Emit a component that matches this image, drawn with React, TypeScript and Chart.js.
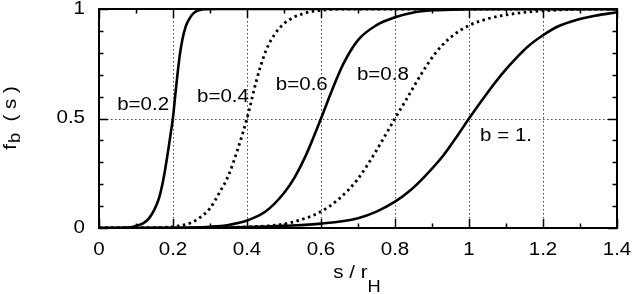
import React, { useEffect, useRef } from "react";
import { Chart, registerables } from "chart.js";
Chart.register(...registerables);

// ---- data ----
const b02S = [0, 0.08, 0.099, 0.12, 0.135, 0.15, 0.162, 0.172, 0.18, 0.188, 0.194, 0.2, 0.206, 0.212, 0.218, 0.225, 0.234, 0.243, 0.255, 0.27, 0.29, 0.32, 1.4];
const b02F = [0, 0.002, 0.009, 0.022, 0.044, 0.085, 0.135, 0.205, 0.28, 0.365, 0.435, 0.505, 0.605, 0.7, 0.785, 0.857, 0.918, 0.952, 0.98, 0.994, 0.999, 1, 1];

const b04S = [0, 0.15, 0.212, 0.25, 0.27, 0.3, 0.325, 0.35, 0.375, 0.4, 0.425, 0.45, 0.475, 0.5, 0.525, 0.55, 0.58, 0.62, 0.7, 1.4];
const b04F = [0, 0.001, 0.009, 0.025, 0.044, 0.09, 0.16, 0.24, 0.36, 0.5, 0.67, 0.805, 0.885, 0.933, 0.961, 0.978, 0.99, 0.997, 1, 1];

const b06S = [0, 0.2, 0.3, 0.35, 0.4, 0.45, 0.5, 0.53, 0.56, 0.6, 0.63, 0.66, 0.7, 0.75, 0.8, 0.85, 0.9, 1.0, 1.1, 1.4];
const b06F = [0, 0.001, 0.006, 0.014, 0.034, 0.075, 0.16, 0.235, 0.335, 0.5, 0.63, 0.748, 0.858, 0.926, 0.962, 0.984, 0.994, 0.999, 1, 1];

const b08S = [0, 0.3, 0.4, 0.45, 0.5, 0.55, 0.6, 0.65, 0.7, 0.75, 0.8, 0.83, 0.87, 0.91, 0.95, 1.0, 1.05, 1.1, 1.17, 1.25, 1.32, 1.4];
const b08F = [0, 0.001, 0.005, 0.009, 0.018, 0.04, 0.075, 0.135, 0.225, 0.355, 0.5, 0.585, 0.7, 0.8, 0.87, 0.925, 0.955, 0.973, 0.988, 0.996, 1, 1];

const b10S = [0, 0.3, 0.4, 0.5, 0.6, 0.7, 0.75, 0.8, 0.84, 0.88, 0.93, 0.97, 1.0, 1.05, 1.09, 1.13, 1.16, 1.2, 1.24, 1.29, 1.34, 1.4];
const b10F = [0, 0.001, 0.004, 0.01, 0.02, 0.045, 0.075, 0.12, 0.17, 0.235, 0.33, 0.425, 0.5, 0.618, 0.705, 0.78, 0.83, 0.88, 0.92, 0.95, 0.969, 0.985];

const curveLabels = ["b=0.2", "b=0.4", "b=0.6", "b=0.8", "b = 1."];
const labelX = [0.049, 0.265, 0.478, 0.697, 1.03];
const labelY = [0.562, 0.598, 0.653, 0.699, 0.42];

const xTicks = [0, 0.2, 0.4, 0.6, 0.8, 1, 1.2, 1.4];
const xTickLabels = ["0", "0.2", "0.4", "0.6", "0.8", "1", "1.2", "1.4"];
const xMinor = [0.1, 0.3, 0.5, 0.7, 0.9, 1.1, 1.3];
const yTicks = [0, 0.5, 1];
const yTickLabels = ["0", "0.5", "1"];
const yMinor = [0.1, 0.2, 0.3, 0.4, 0.6, 0.7, 0.8, 0.9];
const xGrid = [0.2, 0.4, 0.6, 0.8, 1, 1.2];
const yGrid = [0.5];

const FAMILY = '"Liberation Sans", Arial, sans-serif';
const FS = 18;
const SX = 1.14;

function pts(xs: number[], ys: number[]) {
  return xs.map((x, i) => ({ x, y: ys[i] }));
}

function txt(ctx: CanvasRenderingContext2D, s: string, x: number, y: number, align: CanvasTextAlign, size = FS) {
  ctx.save();
  ctx.font = `${size}px ${FAMILY}`;
  ctx.translate(x, y);
  ctx.scale(SX, 1);
  ctx.textAlign = align;
  ctx.fillText(s, 0, 0);
  ctx.restore();
}
function w(ctx: CanvasRenderingContext2D, s: string, size = FS) {
  ctx.save();
  ctx.font = `${size}px ${FAMILY}`;
  const m = ctx.measureText(s).width * SX;
  ctx.restore();
  return m;
}

const gridPlugin = {
  id: "gnuGrid",
  beforeDatasetsDraw(chart: any) {
    const { ctx, chartArea, scales } = chart;
    const { left, right, top, bottom } = chartArea;
    ctx.save();
    ctx.strokeStyle = "#444";
    ctx.lineWidth = 1;
    ctx.setLineDash([1.5, 2.5]);
    xGrid.forEach((v) => {
      const px = Math.round(scales.x.getPixelForValue(v)) + 0.5;
      ctx.beginPath();
      ctx.moveTo(px, top);
      ctx.lineTo(px, bottom);
      ctx.stroke();
    });
    yGrid.forEach((v) => {
      const py = Math.round(scales.y.getPixelForValue(v)) + 0.5;
      ctx.beginPath();
      ctx.moveTo(left, py);
      ctx.lineTo(right, py);
      ctx.stroke();
    });
    ctx.restore();
  },
  afterDatasetsDraw(chart: any) {
    const { ctx, chartArea, scales } = chart;
    const { left, right, top, bottom } = chartArea;
    ctx.save();
    ctx.strokeStyle = "#000";
    ctx.fillStyle = "#000";
    ctx.lineWidth = 1.5;
    const tick = (px: number, len: number) => {
      ctx.beginPath();
      ctx.moveTo(px, bottom);
      ctx.lineTo(px, bottom - len);
      ctx.moveTo(px, top);
      ctx.lineTo(px, top + len);
      ctx.stroke();
    };
    const ytick = (py: number, len: number) => {
      ctx.beginPath();
      ctx.moveTo(left, py);
      ctx.lineTo(left + len, py);
      ctx.moveTo(right, py);
      ctx.lineTo(right - len, py);
      ctx.stroke();
    };
    xTicks.forEach((v) => tick(Math.round(scales.x.getPixelForValue(v)) + 0.5, 9));
    xMinor.forEach((v) => tick(Math.round(scales.x.getPixelForValue(v)) + 0.5, 4.5));
    yTicks.forEach((v) => ytick(Math.round(scales.y.getPixelForValue(v)) + 0.5, 9));
    yMinor.forEach((v) => ytick(Math.round(scales.y.getPixelForValue(v)) + 0.5, 4.5));
    ctx.lineWidth = 2;
    ctx.strokeRect(left, top, right - left, bottom - top);

    ctx.textBaseline = "middle";
    xTicks.forEach((v, i) => txt(ctx, xTickLabels[i], scales.x.getPixelForValue(v), bottom + 22, "center"));
    yTicks.forEach((v, i) => txt(ctx, yTickLabels[i], left - 14, scales.y.getPixelForValue(v), "right"));

    curveLabels.forEach((s, i) =>
      txt(ctx, s, scales.x.getPixelForValue(labelX[i]), scales.y.getPixelForValue(labelY[i]), "left")
    );

    // x title: s / r_H
    ctx.textBaseline = "alphabetic";
    const main = "s / r";
    const sub = "H";
    const wm = w(ctx, main);
    const ws = w(ctx, sub, 16);
    const cx = (left + right) / 2;
    const x0 = cx - (wm + ws) / 2 - 1;
    txt(ctx, main, x0, bottom + 50, "left");
    txt(ctx, sub, x0 + wm, bottom + 64, "left", 16);

    // y title: f_b ( s ) rotated
    ctx.save();
    ctx.translate(16, (top + bottom) / 2);
    ctx.rotate(-Math.PI / 2);
    const p1 = "f";
    const p2 = "b";
    const p3 = "  ( s )";
    const w1 = w(ctx, p1);
    const w2 = w(ctx, p2, 16);
    const w3 = w(ctx, p3);
    let sx = -(w1 + w2 + w3) / 2;
    txt(ctx, p1, sx, 0, "left");
    sx += w1 + 1;
    txt(ctx, p2, sx, 4, "left", 16);
    sx += w2;
    txt(ctx, p3, sx, 0, "left");
    ctx.restore();

    ctx.restore();
  },
};

export default function App() {
  const ref = useRef<HTMLCanvasElement | null>(null);
  useEffect(() => {
    if (!ref.current) return;
    const solid = { borderColor: "#000", borderWidth: 2.6, pointRadius: 0, fill: false, cubicInterpolationMode: "monotone" as const };
    const dotted = { ...solid, borderWidth: 2.8, borderDash: [2.5, 3.5], borderCapStyle: "butt" as const };
    const chart = new Chart(ref.current, {
      type: "line",
      data: {
        datasets: [
          { label: "b=0.2", data: pts(b02S, b02F), ...solid },
          { label: "b=0.4", data: pts(b04S, b04F), ...dotted },
          { label: "b=0.6", data: pts(b06S, b06F), ...solid },
          { label: "b=0.8", data: pts(b08S, b08F), ...dotted },
          { label: "b = 1.", data: pts(b10S, b10F), ...solid },
        ],
      },
      options: {
        animation: false,
        responsive: false,
        devicePixelRatio: 1,
        layout: { padding: { left: 99, right: 17, top: 9, bottom: 66 } },
        plugins: { legend: { display: false }, tooltip: { enabled: false } },
        scales: {
          x: { type: "linear", min: 0, max: 1.4, display: false },
          y: { type: "linear", min: 0, max: 1, display: false },
        },
      },
      plugins: [gridPlugin],
    });
    return () => chart.destroy();
  }, []);
  return (
    <div style={{ position: "absolute", left: 0, top: 0, width: 634, height: 294, background: "#fff" }}>
      <canvas ref={ref} width={634} height={294} style={{ display: "block", width: 634, height: 294 }} />
    </div>
  );
}
